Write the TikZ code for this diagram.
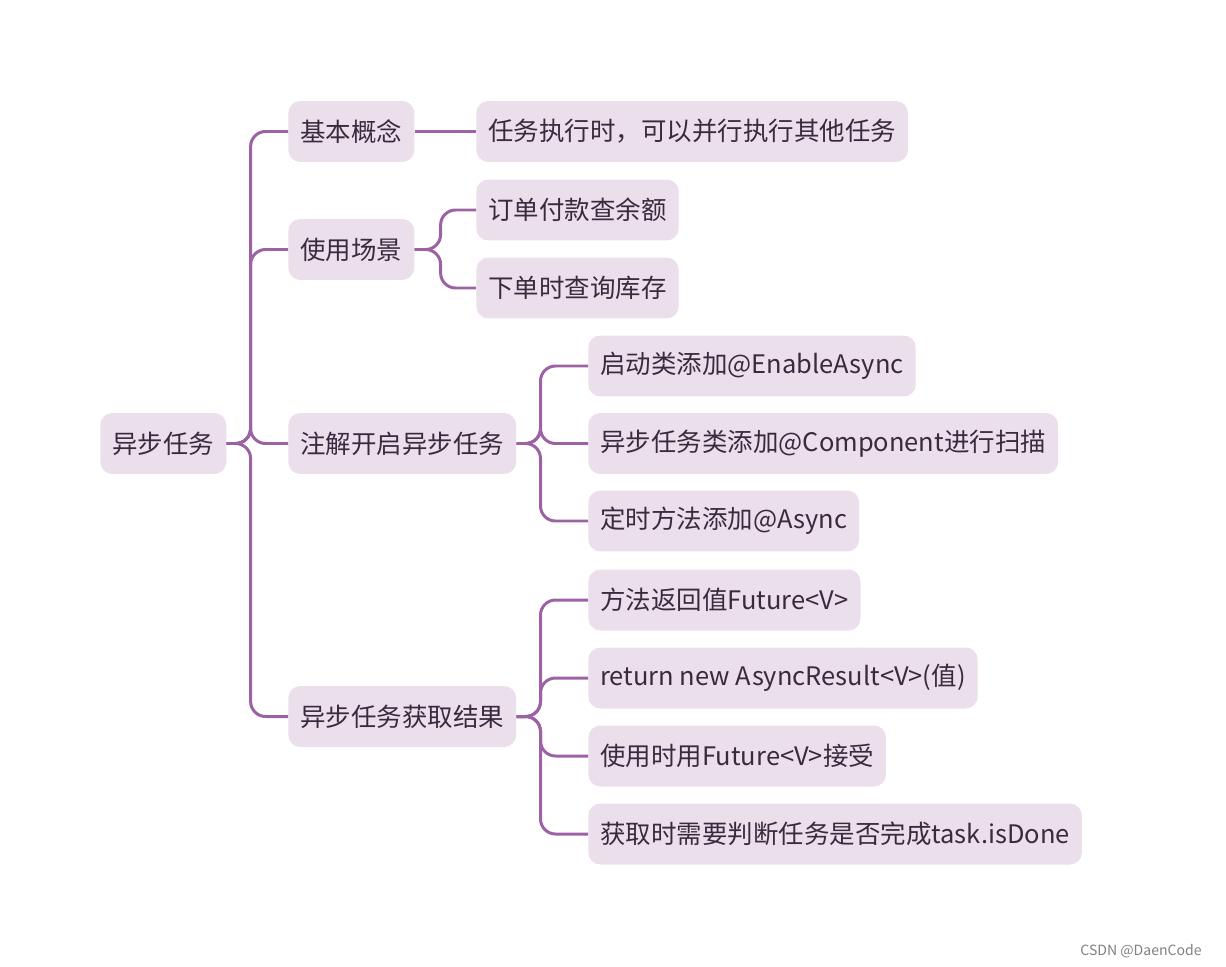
\documentclass[tikz,border=0pt]{standalone}
\usepackage{fontspec}
\setmainfont{Noto Sans CJK SC}
\usetikzlibrary{positioning}
\definecolor{topicfill}{HTML}{EBDFEC}
\definecolor{topictext}{HTML}{3A2A3E}
\definecolor{branch}{HTML}{9C62A3}

\begin{document}
\begin{tikzpicture}[
    x=0.02cm, y=-0.02cm,
    every node/.style={fill=topicfill, text=topictext, rounded corners=0.24cm, anchor=west,
        minimum height=1.22cm, inner xsep=0.24cm, font=\fontsize{14.5}{17}\selectfont},
    link/.style={draw=branch, line width=1.7pt, rounded corners=0.3cm},
]
    \useasboundingbox (0,0) rectangle (1226,966);
    % Nodes
    \node (root) at (100,443.5) {异步任务};

    \node (A) at (288,131.5) {基本概念};
    \node (B) at (288,249.5) {使用场景};
    \node (C) at (288,443.5) {注解开启异步任务};
    \node (D) at (288,716.5) {异步任务获取结果};

    \node (A1) at (476,131.5) {任务执行时，可以并行执行其他任务};

    \node (B1) at (476,210) {订单付款查余额};
    \node (B2) at (476,288) {下单时查询库存};

    \node (C1) at (588,366) {启动类添加@EnableAsync};
    \node (C2) at (588,443.5) {异步任务类添加@Component进行扫描};
    \node (C3) at (588,521) {定时方法添加@Async};

    \node (D1) at (588,600) {方法返回值Future<V>};
    \node (D2) at (588,678) {return new AsyncResult<V>(值)};
    \node (D3) at (588,756) {使用时用Future<V>接受};
    \node (D4) at (588,834) {获取时需要判断任务是否完成task.isDone};

    \node[fill=none, text=gray, font=\fontsize{8}{9}\selectfont, anchor=east, minimum height=0pt]
        (mark) at (1214,951) {CSDN @DaenCode};

    % Connections
    \foreach \t in {A,B,C,D}
        \draw[link] (root.east) -- ++(24,0) |- (\t.west);
    \draw[link] (A.east) -- (A1.west);
    \foreach \t in {B1,B2}
        \draw[link] (B.east) -- ++(26,0) |- (\t.west);
    \foreach \t in {C1,C2,C3}
        \draw[link] (C.east) -- ++(24,0) |- (\t.west);
    \foreach \t in {D1,D2,D3,D4}
        \draw[link] (D.east) -- ++(24,0) |- (\t.west);

\end{tikzpicture}
\end{document}
